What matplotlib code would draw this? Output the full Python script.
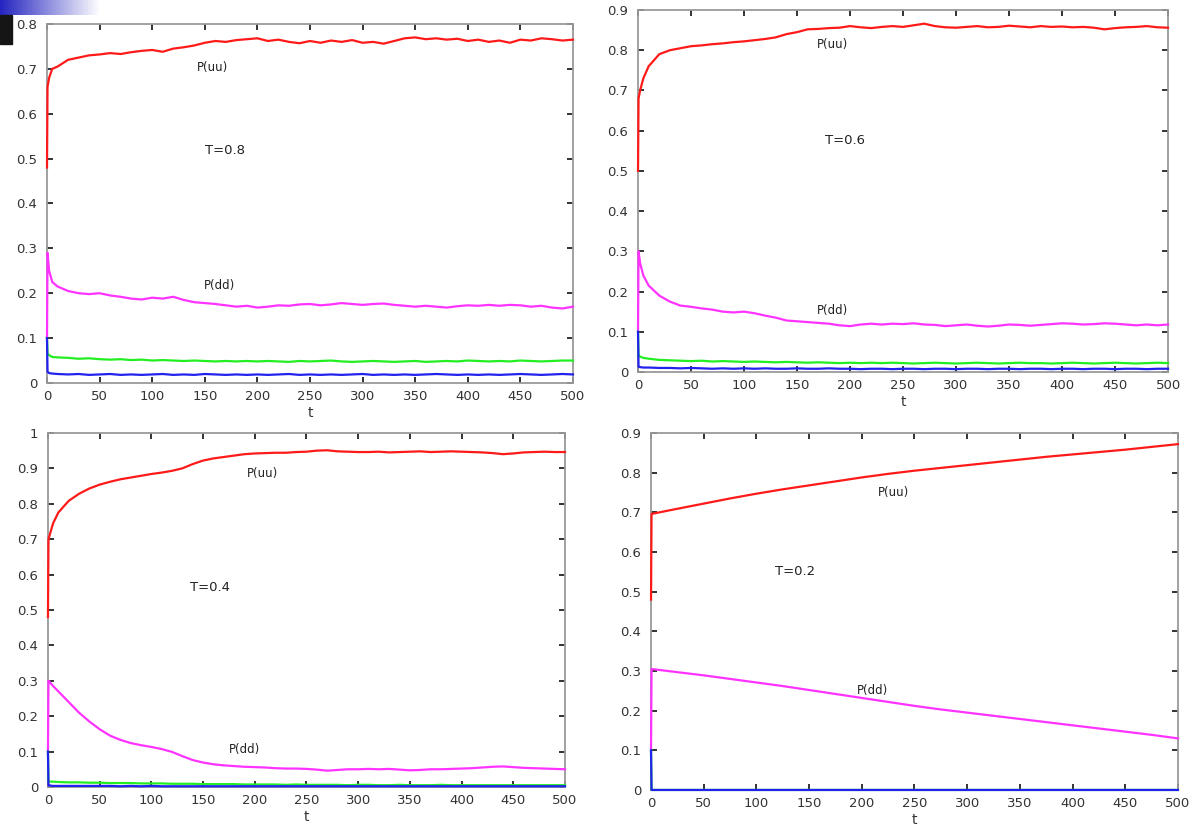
import numpy as np
import matplotlib.pyplot as plt
from matplotlib.patches import Rectangle
from matplotlib.colors import LinearSegmentedColormap

# time grid for the noisy runs (T=0.8, 0.6, 0.4)
t_mc = [0, 0.5, 2, 5, 10, 20, 30, 40, 50, 60, 70, 80, 90, 100, 110, 120, 130, 140,
        150, 160, 170, 180, 190, 200, 210, 220, 230, 240, 250, 260, 270, 280, 290,
        300, 310, 320, 330, 340, 350, 360, 370, 380, 390, 400, 410, 420, 430, 440,
        450, 460, 470, 480, 490, 500]

# T = 0.8
uu_08 = [0.48, 0.66, 0.68, 0.70, 0.705, 0.72, 0.725, 0.73, 0.732, 0.735, 0.733, 0.737,
         0.74, 0.742, 0.738, 0.745, 0.748, 0.752, 0.758, 0.762, 0.760, 0.764, 0.766,
         0.768, 0.762, 0.765, 0.760, 0.757, 0.762, 0.758, 0.763, 0.760, 0.764, 0.758,
         0.760, 0.756, 0.762, 0.768, 0.770, 0.766, 0.768, 0.765, 0.767, 0.762, 0.765,
         0.760, 0.763, 0.758, 0.765, 0.763, 0.768, 0.766, 0.763, 0.765]
dd_08 = [0.10, 0.29, 0.25, 0.225, 0.215, 0.205, 0.20, 0.198, 0.200, 0.195, 0.192, 0.188,
         0.186, 0.190, 0.188, 0.192, 0.185, 0.180, 0.178, 0.176, 0.173, 0.170, 0.172,
         0.168, 0.170, 0.173, 0.172, 0.175, 0.176, 0.173, 0.175, 0.178, 0.176, 0.174,
         0.176, 0.177, 0.174, 0.172, 0.170, 0.172, 0.170, 0.168, 0.171, 0.173, 0.172,
         0.174, 0.172, 0.174, 0.173, 0.170, 0.172, 0.168, 0.166, 0.170]
g_08 = [0.10, 0.065, 0.062, 0.058, 0.057, 0.056, 0.054, 0.055, 0.053, 0.052, 0.053, 0.051,
        0.052, 0.050, 0.051, 0.050, 0.049, 0.050, 0.049, 0.048, 0.049, 0.048, 0.049,
        0.048, 0.049, 0.048, 0.047, 0.049, 0.048, 0.049, 0.050, 0.048, 0.047, 0.048,
        0.049, 0.048, 0.047, 0.048, 0.049, 0.047, 0.048, 0.049, 0.048, 0.050, 0.049,
        0.048, 0.049, 0.048, 0.050, 0.049, 0.048, 0.049, 0.050, 0.050]
b_08 = [0.10, 0.025, 0.022, 0.021, 0.020, 0.019, 0.020, 0.018, 0.019, 0.020, 0.018, 0.019,
        0.018, 0.019, 0.020, 0.018, 0.019, 0.018, 0.020, 0.019, 0.018, 0.019, 0.018,
        0.019, 0.018, 0.019, 0.020, 0.018, 0.019, 0.018, 0.019, 0.018, 0.019, 0.020,
        0.018, 0.019, 0.018, 0.019, 0.018, 0.019, 0.020, 0.019, 0.018, 0.019, 0.018,
        0.019, 0.018, 0.019, 0.020, 0.019, 0.018, 0.019, 0.020, 0.019]

# T = 0.6
uu_06 = [0.50, 0.68, 0.70, 0.73, 0.76, 0.79, 0.80, 0.805, 0.81, 0.812, 0.815, 0.817,
         0.820, 0.822, 0.825, 0.828, 0.832, 0.840, 0.845, 0.852, 0.853, 0.855, 0.856,
         0.860, 0.857, 0.855, 0.858, 0.860, 0.858, 0.862, 0.866, 0.860, 0.857, 0.856,
         0.858, 0.860, 0.857, 0.858, 0.861, 0.859, 0.857, 0.860, 0.858, 0.859, 0.857,
         0.858, 0.856, 0.852, 0.855, 0.857, 0.858, 0.860, 0.857, 0.856]
dd_06 = [0.10, 0.30, 0.27, 0.24, 0.215, 0.19, 0.175, 0.165, 0.162, 0.158, 0.155, 0.150,
         0.148, 0.150, 0.146, 0.140, 0.135, 0.128, 0.126, 0.124, 0.122, 0.120, 0.116,
         0.114, 0.118, 0.120, 0.118, 0.120, 0.119, 0.121, 0.118, 0.117, 0.114, 0.116,
         0.118, 0.115, 0.113, 0.115, 0.118, 0.117, 0.115, 0.117, 0.119, 0.121, 0.120,
         0.118, 0.119, 0.121, 0.120, 0.118, 0.116, 0.118, 0.116, 0.118]
g_06 = [0.10, 0.040, 0.038, 0.035, 0.033, 0.030, 0.029, 0.028, 0.027, 0.028, 0.026, 0.027,
        0.026, 0.025, 0.026, 0.025, 0.024, 0.025, 0.024, 0.023, 0.024, 0.023, 0.022,
        0.023, 0.022, 0.023, 0.022, 0.023, 0.022, 0.021, 0.022, 0.023, 0.022, 0.021,
        0.022, 0.023, 0.022, 0.021, 0.022, 0.023, 0.022, 0.022, 0.021, 0.022, 0.023,
        0.022, 0.021, 0.022, 0.023, 0.022, 0.021, 0.022, 0.023, 0.022]
b_06 = [0.10, 0.013, 0.012, 0.011, 0.011, 0.010, 0.010, 0.009, 0.010, 0.009, 0.008, 0.009,
        0.008, 0.009, 0.008, 0.009, 0.008, 0.008, 0.009, 0.008, 0.008, 0.009, 0.008,
        0.008, 0.007, 0.008, 0.008, 0.007, 0.008, 0.008, 0.007, 0.008, 0.008, 0.007,
        0.008, 0.008, 0.007, 0.008, 0.008, 0.007, 0.008, 0.008, 0.007, 0.008, 0.008,
        0.007, 0.008, 0.008, 0.007, 0.008, 0.008, 0.007, 0.008, 0.008]

# T = 0.4
uu_04 = [0.48, 0.70, 0.715, 0.745, 0.775, 0.808, 0.828, 0.843, 0.854, 0.862, 0.869,
         0.874, 0.879, 0.884, 0.888, 0.893, 0.900, 0.912, 0.922, 0.928, 0.932, 0.936,
         0.940, 0.942, 0.943, 0.944, 0.944, 0.946, 0.947, 0.950, 0.951, 0.948, 0.947,
         0.946, 0.946, 0.947, 0.945, 0.946, 0.947, 0.948, 0.946, 0.947, 0.948, 0.947,
         0.946, 0.945, 0.943, 0.940, 0.942, 0.945, 0.946, 0.947, 0.946, 0.946]
dd_04 = [0.10, 0.30, 0.295, 0.285, 0.27, 0.24, 0.21, 0.185, 0.163, 0.145, 0.133, 0.124,
         0.118, 0.113, 0.107, 0.099, 0.087, 0.076, 0.069, 0.064, 0.061, 0.059, 0.057,
         0.056, 0.055, 0.053, 0.052, 0.052, 0.051, 0.049, 0.046, 0.048, 0.050, 0.050,
         0.051, 0.050, 0.051, 0.049, 0.047, 0.048, 0.050, 0.050, 0.051, 0.052, 0.053,
         0.055, 0.057, 0.058, 0.056, 0.054, 0.053, 0.052, 0.051, 0.050]
g_04 = [0.10, 0.016, 0.015, 0.015, 0.014, 0.013, 0.013, 0.012, 0.012, 0.011, 0.011, 0.011,
        0.010, 0.010, 0.010, 0.009, 0.009, 0.009, 0.008, 0.008, 0.008, 0.008, 0.007,
        0.007, 0.007, 0.007, 0.006, 0.007, 0.006, 0.006, 0.006, 0.006, 0.005, 0.006,
        0.006, 0.005, 0.005, 0.006, 0.005, 0.005, 0.005, 0.006, 0.005, 0.005, 0.005,
        0.005, 0.005, 0.005, 0.005, 0.005, 0.005, 0.005, 0.005, 0.005]
b_04 = [0.10, 0.004, 0.004, 0.003, 0.003, 0.003, 0.003, 0.003, 0.003, 0.003, 0.002, 0.003,
        0.002, 0.003, 0.002, 0.002, 0.002, 0.002, 0.002, 0.002, 0.002, 0.002, 0.002,
        0.002, 0.002, 0.002, 0.002, 0.002, 0.002, 0.002, 0.002, 0.002, 0.002, 0.002,
        0.002, 0.002, 0.002, 0.002, 0.002, 0.002, 0.002, 0.002, 0.002, 0.002, 0.002,
        0.002, 0.002, 0.002, 0.002, 0.002, 0.002, 0.002, 0.002, 0.002]

# T = 0.2 (slow, smooth drift)
t_02 = [0, 0.5, 25, 50, 75, 100, 125, 150, 175, 200, 225, 250, 275, 300, 325, 350,
        375, 400, 425, 450, 475, 500]
uu_02 = [0.48, 0.696, 0.709, 0.722, 0.735, 0.747, 0.758, 0.768, 0.778, 0.788, 0.797,
         0.805, 0.812, 0.819, 0.826, 0.833, 0.840, 0.846, 0.852, 0.858, 0.865, 0.872]
dd_02 = [0.10, 0.305, 0.297, 0.289, 0.280, 0.271, 0.262, 0.252, 0.242, 0.232, 0.222,
         0.212, 0.203, 0.195, 0.187, 0.179, 0.171, 0.163, 0.155, 0.147, 0.139, 0.130]
g_02 = [0.10, 0.0, 0.0, 0.0, 0.0, 0.0, 0.0, 0.0, 0.0, 0.0, 0.0,
        0.0, 0.0, 0.0, 0.0, 0.0, 0.0, 0.0, 0.0, 0.0, 0.0, 0.0]
b_02 = [0.10, 0.0, 0.0, 0.0, 0.0, 0.0, 0.0, 0.0, 0.0, 0.0, 0.0,
        0.0, 0.0, 0.0, 0.0, 0.0, 0.0, 0.0, 0.0, 0.0, 0.0, 0.0]

RED, MAG, GRN, BLU = '#ff1a1a', '#ff33ff', '#22ee22', '#2222ee'


def style_axes(ax, ymax):
    ax.set_xlim(0, 500)
    ax.set_ylim(0, ymax)
    ax.set_xticks(np.arange(0, 501, 50))
    ax.set_yticks(np.arange(0, ymax + 0.001, 0.1))
    ax.yaxis.set_major_formatter(plt.FuncFormatter(
        lambda v, p: '0' if v == 0 else ('1' if abs(v - 1) < 1e-9 else f'{v:.1f}')))
    ax.tick_params(direction='in', top=True, right=True, length=4, width=1.2,
                   color='#111111', labelcolor='#333333', labelsize=9.5)
    ax.tick_params(axis='y', pad=7)
    ax.tick_params(axis='x', pad=5)
    for s in ax.spines.values():
        s.set_color('#9a9a9a')
        s.set_linewidth(1.3)
    ax.set_xlabel('t', fontsize=10, color='#333333', labelpad=2)


def draw(ax, t, uu, dd, g, b):
    # lines sit above the frame so the jumps at t=0 show on the left edge
    for y, c in [(uu, RED), (dd, MAG), (g, GRN), (b, BLU)]:
        ax.plot(t, y, color=c, lw=1.6, zorder=3, clip_on=False)


fig = plt.figure(figsize=(11.93, 8.34), dpi=100)

ax1 = fig.add_axes([0.0394, 0.5408, 0.4409, 0.4305])
ax2 = fig.add_axes([0.5348, 0.5540, 0.4443, 0.4340])
ax3 = fig.add_axes([0.0402, 0.0564, 0.4334, 0.4245])
ax4 = fig.add_axes([0.5457, 0.0528, 0.4417, 0.4280])

draw(ax1, t_mc, uu_08, dd_08, g_08, b_08)
style_axes(ax1, 0.8)
ax1.text(157, 0.704, 'P(uu)', fontsize=8.5, color='#222222', ha='center', va='center')
ax1.text(169, 0.519, 'T=0.8', fontsize=9.5, color='#222222', ha='center', va='center')
ax1.text(164, 0.218, 'P(dd)', fontsize=8.5, color='#222222', ha='center', va='center')

draw(ax2, t_mc, uu_06, dd_06, g_06, b_06)
style_axes(ax2, 0.9)
ax2.text(183, 0.813, 'P(uu)', fontsize=8.5, color='#222222', ha='center', va='center')
ax2.text(195, 0.575, 'T=0.6', fontsize=9.5, color='#222222', ha='center', va='center')
ax2.text(183, 0.154, 'P(dd)', fontsize=8.5, color='#222222', ha='center', va='center')

draw(ax3, t_mc, uu_04, dd_04, g_04, b_04)
style_axes(ax3, 1.0)
ax3.text(207, 0.884, 'P(uu)', fontsize=8.5, color='#222222', ha='center', va='center')
ax3.text(157, 0.562, 'T=0.4', fontsize=9.5, color='#222222', ha='center', va='center')
ax3.text(190, 0.105, 'P(dd)', fontsize=8.5, color='#222222', ha='center', va='center')

draw(ax4, t_02, uu_02, dd_02, g_02, b_02)
style_axes(ax4, 0.9)
ax4.text(230, 0.751, 'P(uu)', fontsize=8.5, color='#222222', ha='center', va='center')
ax4.text(137, 0.550, 'T=0.2', fontsize=9.5, color='#222222', ha='center', va='center')
ax4.text(210, 0.252, 'P(dd)', fontsize=8.5, color='#222222', ha='center', va='center')

# slide decoration in the top-left corner
deco = fig.add_axes([0, 1 - 15 / 834, 100 / 1193, 15 / 834])
grad = np.linspace(0, 1, 256).reshape(1, -1)
cmap = LinearSegmentedColormap.from_list('slide', ['#2424c0', '#ffffff'])
deco.imshow(grad, aspect='auto', cmap=cmap, extent=[0, 1, 0, 1])
deco.axis('off')
fig.patches.append(Rectangle((0, 1 - 44 / 834), 12 / 1193, 29 / 834,
                             transform=fig.transFigure, color='#151515', zorder=5))

plt.savefig('out.png', dpi=100)
